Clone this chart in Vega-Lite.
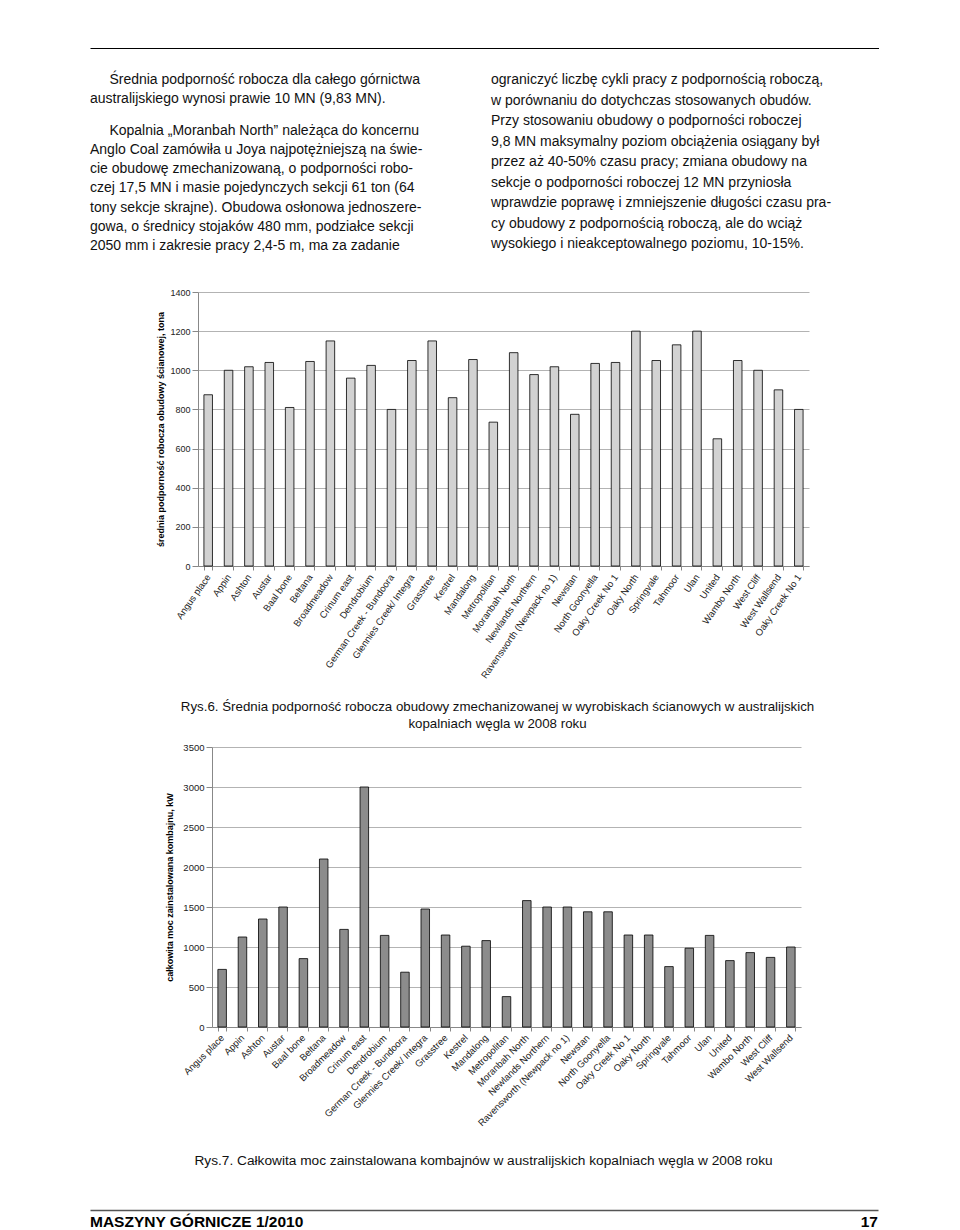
{
  "$schema": "https://vega.github.io/schema/vega-lite/v6.json",
  "padding": {"left": 85, "top": 48, "right": 0, "bottom": 0},
  "spacing": 12,
  "background": "white",
  "config": {"font": "Liberation Sans", "view": {"stroke": null}},
  "datasets": {
    "podpornosc": [
      {"kopalnia": "Angus place", "wartosc": 875},
      {"kopalnia": "Appin", "wartosc": 1000},
      {"kopalnia": "Ashton", "wartosc": 1018},
      {"kopalnia": "Austar", "wartosc": 1040},
      {"kopalnia": "Baal bone", "wartosc": 810},
      {"kopalnia": "Beltana", "wartosc": 1045},
      {"kopalnia": "Broadmeadow", "wartosc": 1150},
      {"kopalnia": "Crinum east", "wartosc": 960},
      {"kopalnia": "Dendrobium", "wartosc": 1025},
      {"kopalnia": "German Creek - Bundoora", "wartosc": 800},
      {"kopalnia": "Glennies Creek/ Integra", "wartosc": 1050},
      {"kopalnia": "Grasstree", "wartosc": 1150},
      {"kopalnia": "Kestrel", "wartosc": 860},
      {"kopalnia": "Mandalong", "wartosc": 1055},
      {"kopalnia": "Metropolitan", "wartosc": 735},
      {"kopalnia": "Moranbah North", "wartosc": 1090},
      {"kopalnia": "Newlands Northern", "wartosc": 978},
      {"kopalnia": "Ravensworth (Newpack no 1)", "wartosc": 1018},
      {"kopalnia": "Newstan", "wartosc": 775},
      {"kopalnia": "North Goonyella", "wartosc": 1035},
      {"kopalnia": "Oaky Creek No 1", "wartosc": 1040},
      {"kopalnia": "Oaky North", "wartosc": 1200},
      {"kopalnia": "Springvale", "wartosc": 1050},
      {"kopalnia": "Tahmoor", "wartosc": 1130},
      {"kopalnia": "Ulan", "wartosc": 1200},
      {"kopalnia": "United", "wartosc": 650},
      {"kopalnia": "Wambo North", "wartosc": 1050},
      {"kopalnia": "West Cliff", "wartosc": 1000},
      {"kopalnia": "West Wallsend", "wartosc": 900},
      {"kopalnia": "Oaky Creek No 1 ", "wartosc": 800}
    ],
    "moc": [
      {"kopalnia": "Angus place", "wartosc": 720},
      {"kopalnia": "Appin", "wartosc": 1125},
      {"kopalnia": "Ashton", "wartosc": 1350},
      {"kopalnia": "Austar", "wartosc": 1500},
      {"kopalnia": "Baal bone", "wartosc": 855},
      {"kopalnia": "Beltana", "wartosc": 2100},
      {"kopalnia": "Broadmeadow", "wartosc": 1220},
      {"kopalnia": "Crinum east", "wartosc": 3000},
      {"kopalnia": "Dendrobium", "wartosc": 1145},
      {"kopalnia": "German Creek - Bundoora", "wartosc": 685},
      {"kopalnia": "Glennies Creek/ Integra", "wartosc": 1475},
      {"kopalnia": "Grasstree", "wartosc": 1150},
      {"kopalnia": "Kestrel", "wartosc": 1010},
      {"kopalnia": "Mandalong", "wartosc": 1080},
      {"kopalnia": "Metropolitan", "wartosc": 380},
      {"kopalnia": "Moranbah North", "wartosc": 1580},
      {"kopalnia": "Newlands Northern", "wartosc": 1500},
      {"kopalnia": "Ravensworth (Newpack no 1)", "wartosc": 1500},
      {"kopalnia": "Newstan", "wartosc": 1440},
      {"kopalnia": "North Goonyella", "wartosc": 1440},
      {"kopalnia": "Oaky Creek No 1", "wartosc": 1150},
      {"kopalnia": "Oaky North", "wartosc": 1150},
      {"kopalnia": "Springvale", "wartosc": 755},
      {"kopalnia": "Tahmoor", "wartosc": 985},
      {"kopalnia": "Ulan", "wartosc": 1145},
      {"kopalnia": "United", "wartosc": 830},
      {"kopalnia": "Wambo North", "wartosc": 930},
      {"kopalnia": "West Cliff", "wartosc": 870},
      {"kopalnia": "West Wallsend", "wartosc": 1000}
    ]
  },
  "vconcat": [
    {
      "width": 789,
      "height": 228,
      "layer": [
        {
          "data": {"values": [
            {"kolumna": "L", "wiersz": 1, "tekst": "Średnia podporność robocza dla całego górnictwa"},
            {"kolumna": "L", "wiersz": 3, "tekst": "Kopalnia „Moranbah North” należąca do koncernu"}
          ]},
          "mark": {"type": "text", "align": "left", "baseline": "alphabetic", "fontSize": 14, "color": "#111"},
          "encoding": {
            "x": {"field": "kolumna", "type": "nominal", "bandPosition": 0.05,
                  "scale": {"type": "band", "domain": ["L", "R"], "paddingInner": 0.0324, "paddingOuter": 0},
                  "axis": {"orient": "top", "title": null, "labels": false, "ticks": false, "grid": false, "domain": true, "domainColor": "#000", "domainWidth": 1}},
            "y": {"field": "wiersz", "type": "ordinal", "scale": {"type": "point", "padding": 0, "domain": [1, 3], "range": [36, 86.8]}, "axis": null},
            "text": {"field": "tekst"}
          }
        },
        {
          "data": {"values": [
            {"kolumna": "L", "wiersz": 2, "tekst": "australijskiego wynosi prawie 10 MN (9,83 MN)."}
          ]},
          "mark": {"type": "text", "align": "left", "baseline": "alphabetic", "fontSize": 14, "color": "#111"},
          "encoding": {
            "x": {"field": "kolumna", "type": "nominal", "bandPosition": 0},
            "y": {"field": "wiersz", "type": "ordinal", "scale": {"type": "point", "padding": 0, "domain": [2], "range": [55.2, 55.2]}, "axis": null},
            "text": {"field": "tekst"}
          }
        },
        {
          "data": {"values": [
            {"kolumna": "L", "wiersz": 4, "tekst": "Anglo Coal zamówiła u Joya najpotężniejszą na świe-"},
            {"kolumna": "L", "wiersz": 5, "tekst": "cie obudowę zmechanizowaną, o podporności robo-"},
            {"kolumna": "L", "wiersz": 6, "tekst": "czej 17,5 MN i masie pojedynczych sekcji 61 ton (64"},
            {"kolumna": "L", "wiersz": 7, "tekst": "tony sekcje skrajne). Obudowa osłonowa jednoszere-"},
            {"kolumna": "L", "wiersz": 8, "tekst": "gowa, o średnicy stojaków 480 mm, podziałce sekcji"},
            {"kolumna": "L", "wiersz": 9, "tekst": "2050 mm i zakresie pracy 2,4-5 m, ma za zadanie"}
          ]},
          "mark": {"type": "text", "align": "left", "baseline": "alphabetic", "fontSize": 14, "color": "#111"},
          "encoding": {
            "x": {"field": "kolumna", "type": "nominal", "bandPosition": 0},
            "y": {"field": "wiersz", "type": "ordinal", "scale": {"type": "point", "padding": 0, "domain": [4, 5, 6, 7, 8, 9], "range": [106, 202]}, "axis": null},
            "text": {"field": "tekst"}
          }
        },
        {
          "data": {"values": [
            {"kolumna": "R", "wiersz": 1, "tekst": "ograniczyć liczbę cykli pracy z podpornością roboczą,"},
            {"kolumna": "R", "wiersz": 2, "tekst": "w porównaniu do dotychczas stosowanych obudów."},
            {"kolumna": "R", "wiersz": 3, "tekst": "Przy stosowaniu obudowy o podporności roboczej"},
            {"kolumna": "R", "wiersz": 4, "tekst": "9,8 MN maksymalny poziom obciążenia osiągany był"},
            {"kolumna": "R", "wiersz": 5, "tekst": "przez aż 40-50% czasu pracy; zmiana obudowy na"},
            {"kolumna": "R", "wiersz": 6, "tekst": "sekcje o podporności roboczej 12 MN przyniosła"},
            {"kolumna": "R", "wiersz": 7, "tekst": "wprawdzie poprawę i zmniejszenie długości czasu pra-"},
            {"kolumna": "R", "wiersz": 8, "tekst": "cy obudowy z podpornością roboczą, ale do wciąż"},
            {"kolumna": "R", "wiersz": 9, "tekst": "wysokiego i nieakceptowalnego poziomu, 10-15%."}
          ]},
          "mark": {"type": "text", "align": "left", "baseline": "alphabetic", "fontSize": 14, "color": "#111"},
          "encoding": {
            "x": {"field": "kolumna", "type": "nominal", "bandPosition": 0},
            "y": {"field": "wiersz", "type": "ordinal", "scale": {"type": "point", "padding": 0, "domain": [1, 2, 3, 4, 5, 6, 7, 8, 9], "range": [36, 200]}, "axis": null},
            "text": {"field": "tekst"}
          }
        }
      ],
      "resolve": {"scale": {"y": "independent"}}
    },
    {
      "width": 719,
      "height": 274,
      "title": {"text": ["Rys.6. Średnia podporność robocza obudowy zmechanizowanej w wyrobiskach ścianowych w australijskich", "kopalniach węgla w 2008 roku"], "orient": "bottom", "anchor": "middle", "dx": 48, "offset": 20, "fontSize": 13.3, "fontWeight": "normal", "lineHeight": 17, "color": "#111"},
      "data": {"name": "podpornosc"},
      "mark": {"type": "bar", "color": "#d2d2d2", "stroke": "#000", "strokeWidth": 0.8},
      "encoding": {
        "x": {"field": "kopalnia", "type": "nominal", "sort": null,
              "scale": {"type": "band", "range": [108, 719], "paddingInner": 0.58, "paddingOuter": 0.29},
              "axis": {"title": null, "labelAngle": -55, "labelAlign": "right", "labelBaseline": "middle", "labelFontSize": 9.5, "labelColor": "#222", "labelPadding": 5, "labelLimit": 0, "tickBand": "extent", "tickSize": 4, "tickColor": "#888", "domainColor": "#888"}},
        "y": {"field": "wartosc", "type": "quantitative",
              "scale": {"domain": [0, 1400], "nice": false},
              "axis": {"values": [0, 200, 400, 600, 800, 1000, 1200, 1400], "format": "d", "offset": -108, "title": "średnia podporność robocza obudowy ścianowej, tona", "titleFontSize": 9, "titleFontWeight": "bold", "titleColor": "#000", "titlePadding": 4, "labelFontSize": 9, "labelColor": "#222", "labelPadding": 2, "tickSize": 6, "tickColor": "#888", "domainColor": "#888", "grid": true, "gridColor": "#b3b3b3"}}
      }
    },
    {
      "width": 711,
      "height": 280,
      "title": {"text": "Rys.7. Całkowita moc zainstalowana kombajnów w australijskich kopalniach węgla w 2008 roku", "orient": "bottom", "anchor": "middle", "dx": 38, "offset": 27, "fontSize": 13.7, "fontWeight": "normal", "color": "#111"},
      "data": {"name": "moc"},
      "mark": {"type": "bar", "color": "#8c8c8c", "stroke": "#000", "strokeWidth": 0.8},
      "encoding": {
        "x": {"field": "kopalnia", "type": "nominal", "sort": null,
              "scale": {"type": "band", "range": [122, 711], "paddingInner": 0.58, "paddingOuter": 0.29},
              "axis": {"title": null, "labelAngle": -45, "labelAlign": "right", "labelBaseline": "middle", "labelFontSize": 9.5, "labelColor": "#222", "labelPadding": 5, "labelLimit": 0, "tickBand": "extent", "tickSize": 4, "tickColor": "#888", "domainColor": "#888"}},
        "y": {"field": "wartosc", "type": "quantitative",
              "scale": {"domain": [0, 3500], "nice": false},
              "axis": {"values": [0, 500, 1000, 1500, 2000, 2500, 3000, 3500], "format": "d", "offset": -122, "title": "całkowita moc zainstalowana kombajnu, kW", "titleFontSize": 9, "titleFontWeight": "bold", "titleColor": "#000", "titlePadding": 8, "labelFontSize": 9.5, "labelColor": "#222", "labelPadding": 2, "tickSize": 6, "tickColor": "#888", "domainColor": "#888", "grid": true, "gridColor": "#b3b3b3"}}
      }
    },
    {
      "width": 788,
      "height": 84,
      "layer": [
        {
          "data": {"values": [{"strona": "L", "tekst": "MASZYNY GÓRNICZE 1/2010"}]},
          "mark": {"type": "text", "align": "left", "baseline": "middle", "fontSize": 15.5, "fontWeight": "bold", "color": "#000"},
          "encoding": {
            "x": {"field": "strona", "type": "nominal", "scale": {"type": "point", "padding": 0, "domain": ["L", "R"]},
                  "axis": {"orient": "top", "offset": -30, "title": null, "labels": false, "ticks": false, "grid": false, "domain": true, "domainColor": "#555", "domainWidth": 1.5}},
            "text": {"field": "tekst"}
          }
        },
        {
          "data": {"values": [{"strona": "R", "tekst": "17"}]},
          "mark": {"type": "text", "align": "right", "baseline": "middle", "fontSize": 15.5, "fontWeight": "bold", "color": "#000"},
          "encoding": {
            "x": {"field": "strona", "type": "nominal"},
            "text": {"field": "tekst"}
          }
        }
      ]
    }
  ]
}
